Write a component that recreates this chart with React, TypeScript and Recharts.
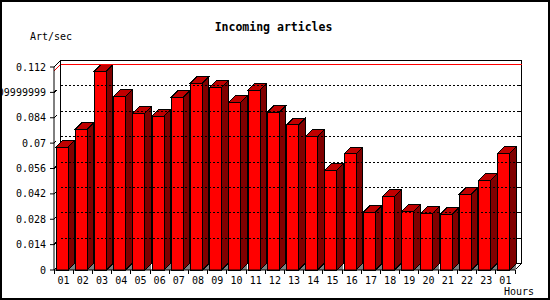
import React from 'react';
import { BarChart, Bar, XAxis, YAxis, ReferenceArea, ReferenceLine } from 'recharts';

const HOURS = ['01', '02', '03', '04', '05', '06', '07', '08', '09', '10', '11', '12',
    '13', '14', '15', '16', '17', '18', '19', '20', '21', '22', '23', '01'];
const RATES = [0.0678, 0.0777, 0.1097, 0.0959, 0.0865, 0.0849, 0.0954, 0.1031, 0.1009, 0.0926, 0.0992, 0.0871,
    0.0801, 0.0738, 0.0551, 0.0641, 0.0319, 0.0407, 0.0324, 0.0313, 0.0308, 0.0418, 0.0495, 0.0644];
const Y_TICKS = [0, 0.014, 0.028, 0.042, 0.056, 0.07, 0.084, 0.098, 0.112];
const Y_LABELS = ['0', '0.014', '0.028', '0.042', '0.056', '0.07', '0.084', '0.09999999', '0.112'];
const GRID_VALUES = [0.014, 0.028, 0.042, 0.056, 0.07, 0.084, 0.098];

const W = 550;
const H = 300;
const LEFT = 54;
const RIGHT = 35;
const DEPTH = 6.5;
const SLOT = (W - LEFT - RIGHT) / HOURS.length;
const MONO = '"DejaVu Sans Mono", monospace';

const data = HOURS.map((h, i) => ({ idx: i, hour: h, rate: RATES[i] }));
const maxRate = Math.max(...RATES);

// 3D bar: front face, top and side faces, grey floor triangle
const Bar3D = (props: any) => {
    const { x, y, width, height } = props;
    const d = DEPTH;
    const x0 = x - 2;
    const xr = x0 + width;
    const yb = y + height;
    return (
        <g stroke="#000" strokeWidth={1} shapeRendering="crispEdges">
            <polygon points={`${xr},${yb} ${xr + d},${yb - d} ${xr + d},${yb}`} fill="#808080" stroke="none" />
            <polygon points={`${xr},${y} ${xr + d},${y - d} ${xr + d},${yb - d} ${xr},${yb}`} fill="#800000" />
            <polygon points={`${x0},${y} ${x0 + d},${y - d} ${xr + d},${y - d} ${xr},${y}`} fill="#C00000" />
            <rect x={x0} y={y} width={width} height={height} fill="#FF0000" />
        </g>
    );
};

// back wall + floor edges of the 3D box
const Wall = (props: any) => {
    const { x, y, width, height } = props;
    const d = DEPTH;
    return (
        <g stroke="#000" strokeWidth={1} fill="none" shapeRendering="crispEdges">
            <rect x={x + d} y={y - d} width={width} height={height} fill="#fff" />
            <line x1={x} y1={y} x2={x + d} y2={y - d} />
            <line x1={x} y1={y + height} x2={x + d} y2={y + height - d} />
            <line x1={x + width} y1={y + height} x2={x + width + d} y2={y + height - d} />
        </g>
    );
};

const GridLine = (props: any) => {
    const { x1, x2, y1 } = props;
    const l = Math.min(x1, x2);
    const r = Math.max(x1, x2);
    const d = DEPTH;
    return (
        <g stroke="#000" strokeWidth={1} shapeRendering="crispEdges">
            <line x1={l + d} y1={y1 - d} x2={r + d} y2={y1 - d} strokeDasharray="2 2" />
            <line x1={r + d - 3} y1={y1 - d} x2={r + d} y2={y1 - d} />
            <line x1={l} y1={y1} x2={l + 2.5} y2={y1 - 2.5} />
        </g>
    );
};

const MaxLine = (props: any) => {
    const { x1, x2, y1 } = props;
    const l = Math.min(x1, x2);
    const r = Math.max(x1, x2);
    const d = DEPTH;
    return (
        <g stroke="#FF0000" strokeWidth={1} shapeRendering="crispEdges">
            <line x1={l + d} y1={y1 - d} x2={r + d} y2={y1 - d} />
            <line x1={l} y1={y1} x2={l + d} y2={y1 - d} />
        </g>
    );
};

const HourTick = (props: any) => {
    const { x, y, payload } = props;
    const i = payload.value;
    const left = x - SLOT / 2;
    return (
        <g>
            <line x1={left} y1={y} x2={left} y2={y + 4} stroke="#000" shapeRendering="crispEdges" />
            {i === HOURS.length - 1 && (
                <line x1={x + SLOT / 2} y1={y} x2={x + SLOT / 2} y2={y + 4} stroke="#000" shapeRendering="crispEdges" />
            )}
            <text x={x} y={y + 10} textAnchor="middle" dominantBaseline="central" fontSize={10} fontFamily={MONO} fill="#000">
                {HOURS[i]}
            </text>
        </g>
    );
};

export default function App() {
    return (
        <div style={{ position: 'fixed', left: 0, top: 0, width: W, height: H, background: '#fff', fontFamily: MONO }}>
            <BarChart width={W} height={H} data={data} margin={{ top: 67, right: RIGHT, left: 0, bottom: 0 }} barSize={12}>
                <ReferenceArea y1={0} y2={0.112} shape={<Wall />} ifOverflow="visible" />
                {GRID_VALUES.map((v) => (
                    <ReferenceLine key={v} y={v} shape={<GridLine />} ifOverflow="visible" />
                ))}
                <ReferenceLine y={maxRate} shape={<MaxLine />} ifOverflow="visible" />
                <XAxis
                    dataKey="idx"
                    type="category"
                    interval={0}
                    height={30}
                    tickLine={false}
                    tickSize={0}
                    tickMargin={0}
                    axisLine={{ stroke: '#000' }}
                    tick={<HourTick />}
                />
                <YAxis
                    width={LEFT}
                    domain={[0, 0.112]}
                    ticks={Y_TICKS}
                    interval={0}
                    tickSize={4}
                    tickMargin={4}
                    tickFormatter={(v: number) => Y_LABELS[Y_TICKS.indexOf(v)]}
                    tick={{ fill: '#000', fontSize: 10, fontFamily: MONO }}
                    axisLine={{ stroke: '#000' }}
                    tickLine={{ stroke: '#000' }}
                />
                <Bar dataKey="rate" shape={<Bar3D />} isAnimationActive={false} />
            </BarChart>
            <div style={{ position: 'absolute', left: 0, top: 20, width: 547, textAlign: 'center', fontSize: 11.5, fontWeight: 'bold', lineHeight: '14px' }}>
                Incoming articles
            </div>
            <div style={{ position: 'absolute', left: 30, top: 31, fontSize: 10, lineHeight: '12px' }}>
                Art/sec
            </div>
            <div style={{ position: 'absolute', right: W - 534, top: 286, fontSize: 10, lineHeight: '12px' }}>
                Hours
            </div>
            <div style={{ position: 'absolute', inset: 0, border: '2px solid #000', boxSizing: 'border-box', pointerEvents: 'none' }} />
        </div>
    );
}
